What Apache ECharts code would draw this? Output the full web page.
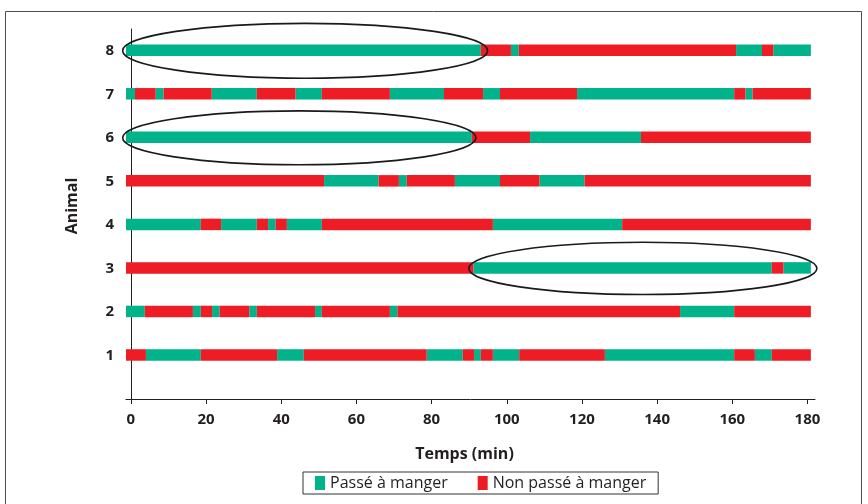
<!DOCTYPE html>
<html>
<head>
<meta charset="utf-8">
<script src="https://cdn.jsdelivr.net/npm/echarts@6/dist/echarts.min.js"></script>
<style>
  html, body { margin: 0; padding: 0; background: #fff; }
  #main { width: 868px; height: 504px; }
</style>
</head>
<body>
<div id="main"></div>
<script>
// temps (min) des changements d'état, par animal
var animals = [1, 2, 3, 4, 5, 6, 7, 8];
// 1 = passé à manger (vert), 0 = non passé (rouge)
var firstState = [0, 1, 0, 1, 0, 1, 1, 1];
var times1 = [-1.3, 4.0, 18.6, 38.9, 46.0, 78.7, 88.3, 91.3, 93.1, 96.3, 103.3, 126.1, 160.5, 166.0, 170.5, 180.9];
var times2 = [-1.3, 3.7, 16.5, 18.6, 21.6, 23.6, 31.5, 33.5, 49.0, 50.8, 68.9, 70.9, 146.1, 160.5, 180.9];
var times3 = [-1.3, 91.1, 170.5, 173.6, 180.9];
var times4 = [-1.3, 18.6, 24.0, 33.5, 36.5, 38.5, 41.5, 50.8, 96.3, 130.7, 180.9];
var times5 = [-1.3, 51.4, 65.9, 71.3, 73.4, 86.2, 98.2, 108.7, 120.7, 180.9];
var times6 = [-1.3, 90.7, 106.2, 135.7, 180.9];
var times7 = [-1.3, 1.1, 6.6, 8.7, 21.5, 33.5, 43.8, 50.8, 68.9, 83.3, 93.7, 98.2, 118.7, 160.5, 163.5, 165.4, 180.9];
var times8 = [-1.3, 93.1, 101.1, 103.2, 161.0, 167.9, 170.9, 180.9];
var allTimes = [times1, times2, times3, times4, times5, times6, times7, times8];

var xTicks = [0, 20, 40, 60, 80, 100, 120, 140, 160, 180];

// ellipses: [début, fin, animal, demi-hauteur]
var ellipses = [
  [-2.2, 94.9, 8, 0.63],
  [-2.2, 91.8, 6, 0.62],
  [89.9, 182.5, 3, 0.6]
];

var green = '#00b38a';
var red = '#ee1c25';
var ink = '#231f20';
var font = '"Open Sans", sans-serif';

var greenData = [];
var redData = [];
allTimes.forEach(function (t, a) {
  for (var i = 0; i < t.length - 1; i++) {
    var state = (firstState[a] + i) % 2;
    var item = [t[i], t[i + 1], animals[a]];
    if (state === 1) greenData.push(item); else redData.push(item);
  }
});

function renderSeg(params, api) {
  var p0 = api.coord([api.value(0), api.value(2)]);
  var p1 = api.coord([api.value(1), api.value(2)]);
  var h = 11.5;
  return {
    type: 'rect',
    shape: {x: p0[0], y: p0[1] - h / 2 - 0.5, width: p1[0] - p0[0], height: h},
    style: {fill: api.visual('color')}
  };
}

function renderEllipse(params, api) {
  var c0 = api.coord([api.value(0), api.value(2)]);
  var c1 = api.coord([api.value(1), api.value(2)]);
  var top = api.coord([api.value(0), api.value(2) + api.value(3)]);
  return {
    type: 'ellipse',
    shape: {cx: (c0[0] + c1[0]) / 2, cy: c0[1], rx: (c1[0] - c0[0]) / 2, ry: c0[1] - top[1]},
    style: {fill: null, stroke: '#1a1a1a', lineWidth: 1.6}
  };
}

var myChart = echarts.init(document.getElementById('main'));
var option = {
  animation: false,
  textStyle: {fontFamily: font},
  graphic: [{
    type: 'rect',
    shape: {x: 5.5, y: 11.5, width: 856, height: 520},
    style: {fill: null, stroke: '#4d4d4d', lineWidth: 1}
  }],
  grid: {left: 126, right: 53, top: 29, bottom: 105},
  legend: {
    data: ['Passé à manger', 'Non passé à manger'],
    left: 303,
    top: 472,
    icon: 'rect',
    itemWidth: 10,
    itemHeight: 14,
    itemGap: 30,
    itemTextGap: 6,
    padding: [3, 12, 3, 12],
    borderColor: '#333',
    borderWidth: 1,
    textStyle: {fontFamily: font, fontSize: 16, color: ink}
  },
  xAxis: {
    type: 'value',
    min: -1.3,
    max: 182,
    name: 'Temps (min)',
    nameLocation: 'middle',
    nameGap: 47,
    nameTextStyle: {fontFamily: font, fontSize: 16, fontWeight: 'bold', color: ink, padding: [0, 12, 0, 0]},
    axisLine: {onZero: true, lineStyle: {color: ink, width: 1}},
    axisTick: {show: true, length: 5, customValues: xTicks, lineStyle: {color: ink}},
    axisLabel: {customValues: xTicks, margin: 13, fontSize: 15, fontWeight: 'bold', color: ink, fontFamily: font},
    splitLine: {show: false}
  },
  yAxis: {
    type: 'value',
    min: 0,
    max: 8.5,
    name: 'Animal',
    nameLocation: 'middle',
    nameGap: 46,
    nameTextStyle: {fontFamily: font, fontSize: 16, fontWeight: 'bold', color: ink, padding: [0, 0, 0, 16]},
    axisLine: {show: true, onZero: true, lineStyle: {color: ink, width: 1}},
    axisTick: {show: true, length: 5, customValues: [0, 1, 2, 3, 4, 5, 6, 7, 8], lineStyle: {color: ink}},
    axisLabel: {customValues: animals, margin: 12, fontSize: 15, fontWeight: 'bold', color: ink, fontFamily: font},
    splitLine: {show: false}
  },
  series: [
    {
      name: 'Passé à manger',
      type: 'custom',
      color: green,
      renderItem: renderSeg,
      encode: {x: [0, 1], y: 2},
      data: greenData
    },
    {
      name: 'Non passé à manger',
      type: 'custom',
      color: red,
      renderItem: renderSeg,
      encode: {x: [0, 1], y: 2},
      data: redData
    },
    {
      name: 'ellipses',
      type: 'custom',
      clip: false,
      z: 5,
      silent: true,
      renderItem: renderEllipse,
      encode: {x: [0, 1], y: 2},
      data: ellipses
    }
  ]
};
myChart.setOption(option);
window.addEventListener('resize', myChart.resize);
</script>
</body>
</html>
